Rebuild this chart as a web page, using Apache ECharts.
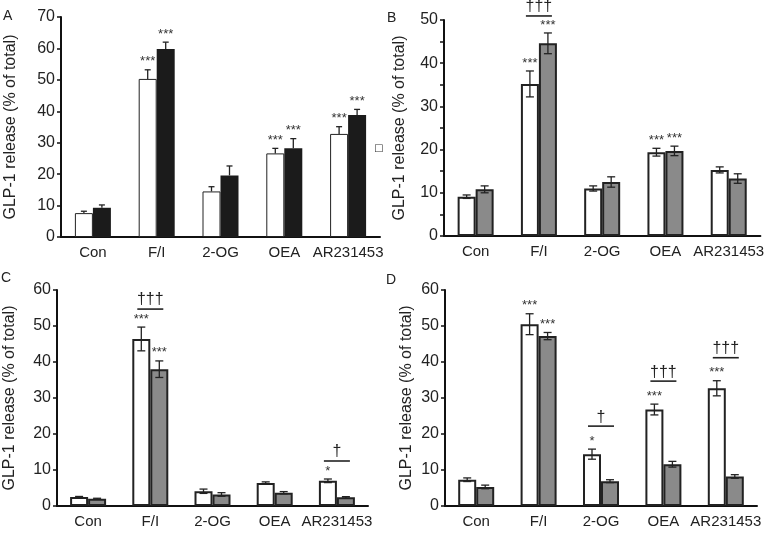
<!DOCTYPE html>
<html>
<head>
<meta charset="utf-8">
<script src="https://cdn.jsdelivr.net/npm/echarts@6/dist/echarts.min.js"></script>
<style>
html, body { margin: 0; padding: 0; background: #fff; }
#main { width: 767px; height: 533px; }
</style>
</head>
<body>
<div id="main"></div>
<script>
var categories = ['Con', 'F/I', '2-OG', 'OEA', 'AR231453'];

// A
var aWhite = [7.6, 50.3, 14.5, 26.6, 32.8];
var aWhiteErr = [0.6, 2.9, 1.5, 1.6, 2.3];
var aDark = [9.3, 59.8, 19.6, 28.2, 38.8];
var aDarkErr = [0.9, 2.2, 3.0, 3.1, 1.8];
var aWhiteSig = ['', '***', '', '***', '***'];
var aDarkSig = ['', '***', '', '***', '***'];
var aDagger = ['', '', '', '', ''];

// B
var bWhite = [9.1, 35.2, 11.0, 19.4, 15.3];
var bWhiteErr = [0.4, 3.0, 0.6, 0.9, 0.7];
var bGray = [10.8, 44.6, 12.5, 19.7, 13.3];
var bGrayErr = [0.8, 2.4, 1.2, 1.1, 1.1];
var bWhiteSig = ['', '***', '', '***', ''];
var bGraySig = ['', '***', '', '***', ''];
var bDagger = ['', '\u2020\u2020\u2020', '', '', ''];

// C
var cWhite = [2.5, 46.4, 4.1, 6.4, 7.0];
var cWhiteErr = [0.15, 3.3, 0.6, 0.3, 0.5];
var cGray = [2.0, 38.0, 3.2, 3.7, 2.4];
var cGrayErr = [0.15, 2.3, 0.5, 0.3, 0.2];
var cWhiteSig = ['', '***', '', '', '*'];
var cGraySig = ['', '***', '', '', ''];
var cDagger = ['', '\u2020\u2020\u2020', '', '', '\u2020'];

// D
var dWhite = [7.3, 50.5, 14.4, 26.8, 32.7];
var dWhiteErr = [0.5, 2.9, 1.4, 1.5, 2.1];
var dGray = [5.3, 47.2, 6.9, 11.6, 8.2];
var dGrayErr = [0.5, 1.0, 0.4, 0.8, 0.5];
var dWhiteSig = ['', '***', '*', '***', '***'];
var dGraySig = ['', '***', '', '', ''];
var dDagger = ['', '', '\u2020', '\u2020\u2020\u2020', '\u2020\u2020\u2020'];

var yTitle = 'GLP-1 release (% of total)';
var FONT = '"Liberation Sans", Arial, sans-serif';
var BAR_W = 18;

var panels = [
  { label: 'A', grid: { left: 61, top: 17, right: 387, bottom: 296 }, max: 70, minor: false, nameGap: 42, dagGap: 20,
    s1: aWhite, e1: aWhiteErr, s2: aDark, e2: aDarkErr, sig1: aWhiteSig, sig2: aDarkSig, dag: aDagger,
    fill2: '#1b1b1b', border: 1, oneSided: true },
  { label: 'B', grid: { left: 444, top: 20, right: 5, bottom: 297 }, max: 50, minor: true, nameGap: 36, dagGap: 17,
    s1: bWhite, e1: bWhiteErr, s2: bGray, e2: bGrayErr, sig1: bWhiteSig, sig2: bGraySig, dag: bDagger,
    fill2: '#8a8a8a', border: 2, oneSided: false },
  { label: 'C', grid: { left: 57, top: 290, right: 399, bottom: 27 }, max: 60, minor: false, nameGap: 39, dagGap: 18,
    s1: cWhite, e1: cWhiteErr, s2: cGray, e2: cGrayErr, sig1: cWhiteSig, sig2: cGraySig, dag: cDagger,
    fill2: '#8a8a8a', border: 2, oneSided: false },
  { label: 'D', grid: { left: 445, top: 290, right: 10, bottom: 27 }, max: 60, minor: false, nameGap: 30, dagGap: 23,
    s1: dWhite, e1: dWhiteErr, s2: dGray, e2: dGrayErr, sig1: dWhiteSig, sig2: dGraySig, dag: dDagger,
    fill2: '#8a8a8a', border: 2, oneSided: false }
];

var grids = [], xAxes = [], yAxes = [], series = [];

panels.forEach(function (p, i) {
  grids.push(p.grid);
  xAxes.push({
    type: 'category', gridIndex: i, data: categories,
    axisLine: { lineStyle: { color: '#111', width: 2 } },
    axisTick: { show: false },
    axisLabel: { color: '#222', fontSize: 15, fontFamily: FONT, margin: 8, interval: 0 }
  });
  yAxes.push({
    type: 'value', gridIndex: i, min: 0, max: p.max, interval: 10,
    axisLine: { show: true, lineStyle: { color: '#111', width: 2 } },
    axisTick: { show: true, length: 4, lineStyle: { color: '#111', width: 1.5 } },
    minorTick: { show: p.minor, splitNumber: 2, length: 4, lineStyle: { color: '#111', width: 1.5 } },
    splitLine: { show: false },
    axisLabel: { color: '#222', fontSize: 16, fontFamily: FONT, margin: 6 },
    name: yTitle, nameLocation: 'middle', nameGap: p.nameGap,
    nameTextStyle: { color: '#222', fontSize: 16, fontFamily: FONT }
  });
  series.push({
    type: 'bar', xAxisIndex: i, yAxisIndex: i, data: p.s1, barWidth: BAR_W, barGap: '0%',
    itemStyle: { color: '#fff', borderColor: '#222', borderWidth: p.border }
  });
  series.push({
    type: 'bar', xAxisIndex: i, yAxisIndex: i, data: p.s2, barWidth: BAR_W, barGap: '0%',
    itemStyle: { color: p.fill2, borderColor: '#222', borderWidth: p.oneSided ? 0 : p.border }
  });
  // error bars + significance marks
  series.push({
    type: 'custom', xAxisIndex: i, yAxisIndex: i, z: 5,
    data: categories.map(function (c, k) { return [k, p.s1[k], p.e1[k], p.s2[k], p.e2[k]]; }),
    renderItem: function (params, api) {
      var k = api.value(0);
      var cx = api.coord([k, 0])[0];
      var children = [];
      var capTops = [];
      [[p.s1, p.e1, p.sig1, -BAR_W / 2], [p.s2, p.e2, p.sig2, BAR_W / 2]].forEach(function (s) {
        var v = s[0][k], e = s[1][k], x = cx + s[3];
        var yTop = api.coord([k, v + e])[1];
        var yBot = api.coord([k, p.oneSided ? v : v - e])[1];
        var cap = p.oneSided ? 3 : 4;
        var st = { stroke: '#222', lineWidth: 1.3 };
        children.push({ type: 'line', shape: { x1: x, y1: yTop, x2: x, y2: yBot }, style: st });
        children.push({ type: 'line', shape: { x1: x - cap, y1: yTop, x2: x + cap, y2: yTop }, style: st });
        if (!p.oneSided) {
          children.push({ type: 'line', shape: { x1: x - cap, y1: yBot, x2: x + cap, y2: yBot }, style: st });
        }
        capTops.push(yTop);
        if (s[2][k]) {
          children.push({ type: 'text', style: {
            text: s[2][k], x: x, y: yTop - 8, align: 'center', verticalAlign: 'middle',
            font: '13px ' + FONT, fill: '#333' } });
        }
      });
      if (p.dag[k]) {
        var ly = Math.min(capTops[0], capTops[1]) - p.dagGap;
        children.push({ type: 'line', shape: { x1: cx - 13, y1: ly, x2: cx + 13, y2: ly },
          style: { stroke: '#222', lineWidth: 1.6 } });
        children.push({ type: 'text', style: {
          text: p.dag[k], x: cx, y: ly - 1, align: 'center', verticalAlign: 'bottom',
          font: '16px ' + FONT, fill: '#222' } });
      }
      return { type: 'group', children: children };
    }
  });
});

var chart = echarts.init(document.getElementById('main'));
chart.setOption({
  animation: false,
  backgroundColor: '#fff',
  grid: grids,
  xAxis: xAxes,
  yAxis: yAxes,
  series: series,
  graphic: [
    { type: 'text', left: 3, top: 9, style: { text: 'A', font: '14px ' + FONT, fill: '#222' } },
    { type: 'text', left: 387, top: 11, style: { text: 'B', font: '14px ' + FONT, fill: '#222' } },
    { type: 'text', left: 1, top: 271, style: { text: 'C', font: '14px ' + FONT, fill: '#222' } },
    { type: 'text', left: 386, top: 273, style: { text: 'D', font: '14px ' + FONT, fill: '#222' } },
    { type: 'text', left: 374, top: 143, style: { text: '\u25a1', font: '10px "DejaVu Sans"', fill: '#333' } }
  ]
});
</script>
</body>
</html>
